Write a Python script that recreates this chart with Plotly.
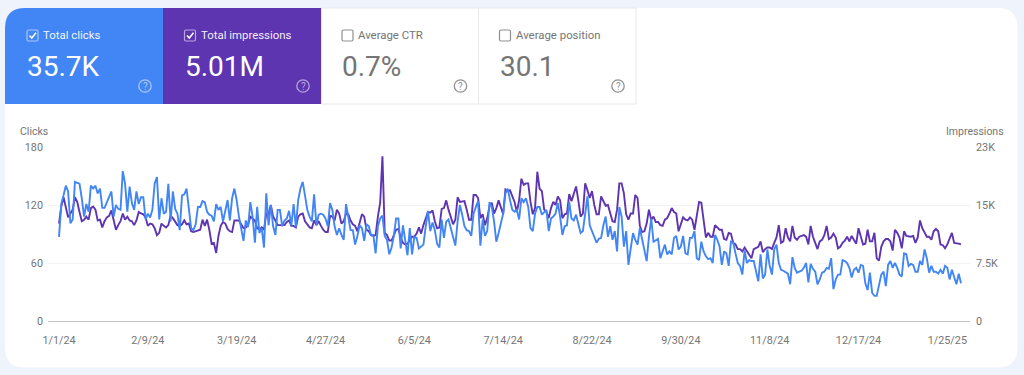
import pandas as pd
import plotly.graph_objects as go

clicks = [
87,121,130,140,134,101,105,144,143,142,127,108,121,113,140,137,140,132,137,117,117,123,127,134,108,120,116,115,155,142,113,139,122,115,134,121,128,128,105,111,107,115,142,149,105,127,111,113,142,103,134,116,111,94,130,131,137,115,96,94,100,118,
118,124,123,113,110,109,103,121,115,118,103,114,125,104,127,137,125,108,94,83,104,97,123,108,81,118,91,96,76,132,99,120,98,89,115,115,98,104,106,114,99,121,97,125,137,144,130,115,108,103,131,99,110,111,110,106,98,122,115,98,89,96,89,84,121,108,94,94,79,88,99,96,83,100,98,89,89,70,98,106,109,88,84,69,76,88,106,106,
75,99,81,68,96,69,87,86,75,77,79,98,114,93,102,94,80,76,105,86,103,105,96,84,78,103,120,110,98,94,93,88,111,118,124,78,105,88,93,123,118,103,82,91,101,111,132,137,125,115,113,115,105,127,123,127,118,96,93,111,118,118,110,112,115,93,106,108,111,122,108,89,98,99,123,106,104,110,101,91,93,111,129,99,93,87,81,85,
86,99,108,87,98,84,93,72,118,108,77,93,58,75,91,84,79,96,84,70,62,87,106,82,84,85,65,73,79,69,72,69,86,88,74,77,88,70,69,86,86,93,65,63,82,72,67,64,65,60,89,84,77,58,72,70,57,82,81,70,60,57,48,73,60,63,62,62,51,41,69,44,48,74,57,48,74,79,60,53,52,50,49,38,66,55,50,51,52,
55,60,40,59,54,51,38,43,50,51,55,54,65,33,43,48,48,63,62,60,55,45,53,55,50,58,57,39,32,50,29,26,26,36,48,51,36,58,62,55,60,55,48,46,70,69,57,59,58,51,51,62,58,74,65,50,57,51,51,49,53,49,57,55,43,53,46,38,49,39,
]
impressions_k = [
12.6,14.8,16.0,14.5,13.4,13.9,14.4,16.0,15.4,14.1,12.9,13.1,13.5,13.1,14.6,14.8,14.4,13.0,13.1,12.1,12.9,13.4,13.6,14.3,13.0,11.8,12.4,12.9,13.9,13.1,13.5,13.0,12.9,12.4,13.0,14.1,13.9,13.8,13.4,12.3,12.6,12.5,12.0,11.1,11.4,12.6,12.3,12.1,12.4,13.6,13.3,12.9,12.4,12.3,12.5,13.0,12.5,12.6,11.6,11.5,11.6,11.8,
11.8,13.1,12.3,13.1,11.8,10.0,10.1,8.8,11.0,12.3,12.8,12.6,11.9,11.6,11.5,13.0,13.0,13.0,12.5,12.0,12.1,12.4,13.5,13.3,13.0,12.0,11.8,12.1,11.8,13.9,13.8,15.0,13.5,13.0,12.4,12.4,12.4,12.4,12.8,13.0,12.3,12.3,12.1,13.5,13.8,13.9,12.9,12.5,12.1,12.0,13.0,12.4,12.9,12.3,11.8,11.5,11.5,13.6,13.5,13.0,14.4,13.9,12.6,12.9,13.9,13.8,13.0,12.5,12.3,11.6,12.6,13.8,13.5,11.8,11.6,11.1,11.0,11.1,13.5,15.3,21.3,11.4,11.1,10.4,10.4,11.1,11.8,11.9,
10.8,10.1,9.9,10.0,10.5,10.9,10.9,11.3,12.1,11.3,12.4,13.3,14.1,14.0,14.3,12.9,12.0,12.1,14.5,14.6,15.6,14.4,13.3,12.5,13.1,16.0,15.4,15.5,15.5,14.4,13.1,13.1,16.3,16.3,15.9,13.3,13.8,12.4,13.3,14.8,15.3,13.9,14.6,15.6,14.6,13.8,17.0,16.8,16.9,16.1,15.4,14.1,15.6,18.4,17.6,17.8,17.8,15.4,13.8,14.6,19.3,17.1,16.8,14.4,14.1,13.3,14.6,15.4,15.0,16.1,15.6,13.3,13.8,13.9,16.4,15.5,16.5,17.4,15.6,13.5,13.9,17.8,16.9,15.9,16.8,15.0,13.8,13.8,
16.1,15.4,14.9,15.0,13.8,12.9,12.8,14.4,17.8,17.8,16.5,13.8,13.1,13.9,13.9,16.3,15.9,12.3,11.5,11.6,12.6,14.4,13.1,13.5,12.8,12.8,12.4,12.3,13.1,13.3,13.9,14.6,14.1,13.9,11.6,12.4,13.4,13.1,13.0,13.4,13.1,11.8,13.5,15.4,15.3,13.3,10.8,11.4,10.9,10.9,12.4,12.1,11.8,11.8,10.6,10.5,11.4,11.3,10.1,9.9,9.3,9.3,9.0,9.5,9.0,8.6,8.1,9.3,9.5,9.6,10.3,8.9,9.3,9.5,9.5,9.3,10.1,10.8,12.4,10.1,10.3,12.0,10.8,10.3,12.3,10.8,10.5,10.9,11.0,
11.1,10.9,9.9,12.3,10.9,10.1,9.3,10.3,10.5,11.1,12.3,10.6,10.8,11.3,10.8,9.4,9.6,10.1,10.4,10.9,10.3,11.0,10.4,10.0,12.0,10.9,9.9,10.0,11.8,10.3,10.3,11.4,8.1,7.8,9.6,10.3,10.6,10.6,10.3,9.1,11.8,11.4,10.8,9.4,11.6,11.0,10.9,10.9,11.0,10.1,10.8,13.0,12.0,11.4,10.9,10.9,10.5,11.6,11.9,11.6,9.9,9.8,9.4,9.9,10.8,11.4,10.1,10.0,10.0,9.9,
]
n_days = min(len(clicks), len(impressions_k))
dates = pd.date_range("2024-01-01", periods=n_days, freq="D")
left_ticks = [0, 60, 120, 180]
right_ticks = [0, 7.5, 15, 22.5]
right_labels = ["0", "7.5K", "15K", "23K"]
x_tick_dates = ["2024-01-01", "2024-02-09", "2024-03-19", "2024-04-27", "2024-06-05",
                "2024-07-14", "2024-08-22", "2024-09-30", "2024-11-08", "2024-12-17", "2025-01-25"]
x_tick_labels = ["1/1/24", "2/9/24", "3/19/24", "4/27/24", "6/5/24", "7/14/24",
                 "8/22/24", "9/30/24", "11/8/24", "12/17/24", "1/25/25"]
card_labels = ["Total clicks", "Total impressions", "Average CTR", "Average position"]
card_values = ["35.7K", "5.01M", "0.7%", "30.1"]

W, H = 1024, 375
BLUE, PURPLE = "#4285f4", "#5e35b1"
GREY = "#757575"
def X(p): return p / W
def Y(p): return 1 - p / H

shapes, annotations = [], []
def path(d, **kw):
    shapes.append(dict(type="path", path=d, xref="paper", yref="paper", layer="below", **kw))
def P(x, y): return f"{X(x):.5f},{Y(y):.5f}"
def rounded(x0, y0, x1, y1, r):
    return (f"M{P(x0+r,y0)} L{P(x1-r,y0)} Q{P(x1,y0)} {P(x1,y0+r)} L{P(x1,y1-r)} "
            f"Q{P(x1,y1)} {P(x1-r,y1)} L{P(x0+r,y1)} Q{P(x0,y1)} {P(x0,y1-r)} "
            f"L{P(x0,y0+r)} Q{P(x0,y0)} {P(x0+r,y0)} Z")
def rect(x0, y0, x1, y1, fill, line=None):
    shapes.append(dict(type="rect", xref="paper", yref="paper", layer="below",
                       x0=X(x0), x1=X(x1), y0=Y(y0), y1=Y(y1), fillcolor=fill,
                       line=dict(color=line or fill, width=1 if line else 0)))
def text(x, y, s, size, color, anchor="left"):
    annotations.append(dict(x=X(x), y=Y(y), xref="paper", yref="paper", text=s, showarrow=False,
                            xanchor=anchor, yanchor="middle", borderpad=0,
                            font=dict(family="Roboto", size=size, color=color)))

# page and card
rect(0, 0, W, H, "#eff3fc")
path(rounded(5, 8, 1017.5, 367.5, 20), fillcolor="#ffffff", line=dict(width=0))

# metric tiles
r = 20
path(f"M{P(5,104)} L{P(5,8+r)} Q{P(5,8)} {P(5+r,8)} L{P(163,8)} L{P(163,104)} Z",
     fillcolor=BLUE, line=dict(width=0))
rect(163, 8, 321, 104, PURPLE)
rect(321.5, 8, 478.5, 104, "#ffffff", "#e6e8ec")
rect(478.5, 8, 636, 104, "#ffffff", "#e6e8ec")
tile_x = [27, 184.5, 342, 499.5]
help_x = [145, 303, 460.5, 618]
for i in range(4):
    active = i < 2
    x = tile_x[i]
    fg = "rgba(255,255,255,0.95)" if active else GREY
    soft = "rgba(255,255,255,0.55)" if active else "#8f8f8f"
    path(rounded(x, 30, x + 11, 41, 1.5), line=dict(color=soft, width=1.2), fillcolor="rgba(0,0,0,0)")
    if active:
        path(f"M{P(x+2.5,35.5)} L{P(x+4.8,38)} L{P(x+9,32.8)}", line=dict(color="#ffffff", width=1.5))
    text(x + 15.2, 35, card_labels[i], 11.4, fg)
    text(x - 1, 67, card_values[i], 28, "#ffffff" if active else GREY)
    hx = help_x[i]
    shapes.append(dict(type="circle", xref="paper", yref="paper", layer="below",
                       x0=X(hx - 6.2), x1=X(hx + 6.2), y0=Y(86 + 6.2), y1=Y(86 - 6.2),
                       line=dict(color=soft, width=1.3), fillcolor="rgba(0,0,0,0)"))
    text(hx, 86, "?", 10, soft, anchor="center")

text(18.5, 131.5, "Clicks", 10.5, GREY)
text(1004.5, 131.5, "Impressions", 10.5, GREY, anchor="right")

fig = go.Figure()
fig.add_trace(go.Scatter(x=dates, y=impressions_k[:n_days], mode="lines", name="Impressions",
                         line=dict(color=PURPLE, width=1.9), yaxis="y", hoverinfo="skip"))
fig.add_trace(go.Scatter(x=dates, y=clicks[:n_days], mode="lines", name="Clicks",
                         line=dict(color=BLUE, width=1.9), yaxis="y2", hoverinfo="skip"))

px_per_day = (961 - 59) / (n_days - 1)
pad_l = pd.Timedelta(days=(59 - 48) / px_per_day)
pad_r = pd.Timedelta(days=(970 - 961) / px_per_day)
axis_font = dict(family="Roboto", size=10.8, color=GREY)

fig.update_layout(
    width=W, height=H, autosize=False, showlegend=False,
    margin=dict(l=0, r=0, t=0, b=0, pad=0),
    paper_bgcolor="#eff3fc", plot_bgcolor="rgba(0,0,0,0)",
    shapes=shapes, annotations=annotations,
    xaxis=dict(domain=[X(48), X(970)], range=[dates[0] - pad_l, dates[-1] + pad_r], automargin=False,
               tickmode="array", tickvals=x_tick_dates, ticktext=x_tick_labels,
               showgrid=False, zeroline=False, showline=True, linecolor="#c4c4c4", linewidth=1,
               ticks="", tickfont=axis_font, ticklabelstandoff=9, tickangle=0),
    yaxis=dict(domain=[Y(321), Y(147)], range=[0, 22.5], side="right", anchor="x", automargin=False,
               tickmode="array", tickvals=right_ticks, ticktext=right_labels,
               showgrid=False, zeroline=False, tickfont=axis_font, ticks="", ticklabelstandoff=5),
    yaxis2=dict(domain=[Y(321), Y(147)], range=[0, 180], side="left", overlaying="y", anchor="x", automargin=False,
                tickmode="array", tickvals=left_ticks, showgrid=True, gridcolor="#f3f3f3", gridwidth=1,
                zeroline=False, tickfont=axis_font, ticks="", ticklabelstandoff=4),
)
fig.write_html("out.html", config=dict(displayModeBar=False, responsive=False),
               post_script="document.body.style.margin='0';document.body.style.background='#eff3fc';document.documentElement.style.overflow='hidden';")
